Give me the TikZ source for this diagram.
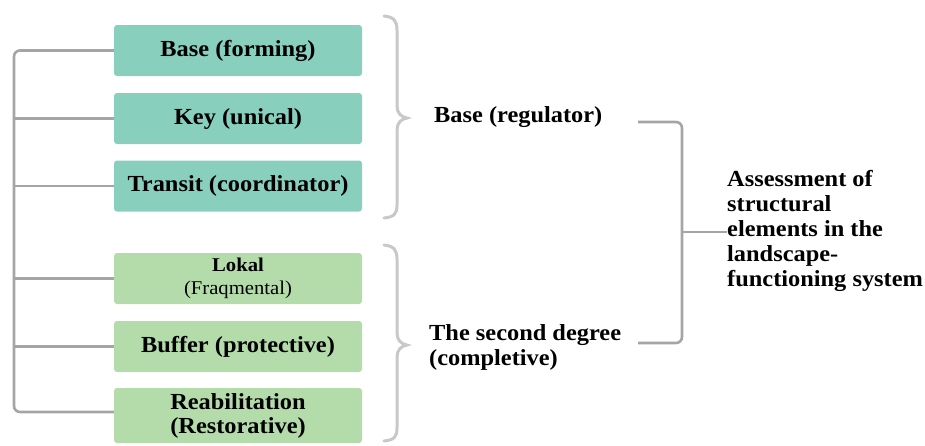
\documentclass[tikz,border=0pt]{standalone}
\usepackage{fontspec}
\setmainfont[FakeStretch=1.06]{Liberation Serif}
\definecolor{teal1}{RGB}{136,207,190}
\definecolor{green1}{RGB}{180,220,171}
\definecolor{line1}{RGB}{165,165,165}
\definecolor{brace1}{RGB}{200,200,200}
\begin{document}
\begin{tikzpicture}[x=1pt,y=-1pt,
  box/.style={rectangle,rounded corners=3pt,minimum width=248pt,minimum height=51pt,inner sep=0pt,align=center,
     font=\fontsize{23}{26}\selectfont\bfseries},
  tealbox/.style={box,fill=teal1},
  greenbox/.style={box,fill=green1},
  conn/.style={draw=line1,line width=2.6pt,rounded corners=6pt},
  bracestyle/.style={draw=brace1,line width=3pt,line cap=round},
  lbl/.style={inner sep=0pt,align=left,anchor=west,font=\fontsize{23}{25}\selectfont\bfseries}]
\useasboundingbox (0,0) rectangle (925,445);
\node[tealbox] (b1) at (238,50.5) {Base (forming)};
\node[tealbox] (b2) at (238,118.5) {Key (unical)};
\node[tealbox] (b3) at (238,186) {Transit (coordinator)};
\node[greenbox] (b4) at (238,278.5) {{\fontsize{19.5}{25}\selectfont Lokal}\\[-3pt]{\fontsize{19.5}{22}\selectfont\mdseries (Fraqmental)}};
\node[greenbox] (b5) at (238,346.5) {Buffer (protective)};
\node[greenbox,minimum height=55pt] (b6) at (238,415.5) {Reabilitation\\[-2pt](Restorative)};
% left connector
\coordinate (lt) at (14,50.5);
\coordinate (lb) at (14,412);
\draw[conn] (b1.west) -- (lt) -- (lb) -- (b6.west |- lb);
\draw[conn] (b2.west) -- (b2.west -| lt);
\draw[conn] (b3.west) -- (b3.west -| lt);
\draw[conn] (b4.west) -- (b4.west -| lt);
\draw[conn] (b5.west) -- (b5.west -| lt);
% braces
\draw[bracestyle] (384,16) .. controls (394,17) and (397,21) .. (397,30) -- (397,106)
   .. controls (397,113) and (401,117) .. (407,118) .. controls (401,119) and (397,123) .. (397,130)
   -- (397,205) .. controls (397,214) and (394,217) .. (384,218);
\draw[bracestyle] (384,245) .. controls (394,246) and (397,250) .. (397,259) -- (397,333)
   .. controls (397,340) and (401,344) .. (407,345) .. controls (401,346) and (397,350) .. (397,357)
   -- (397,428) .. controls (397,437) and (394,440) .. (384,441);
% labels
\node[lbl] (reg) at (434,117) {Base (regulator)};
\node[lbl] (sec) at (429,347.5) {The second degree\\(completive)};
\node[lbl] (ass) at (727,230.5) {Assessment of\\structural\\elements in the\\landscape-\\functioning system};
% right bracket
\coordinate (rt) at (682,122);
\coordinate (rb) at (682,343);
\draw[conn] (638,122) -- (rt) -- (rb) -- (638,343);
\draw[conn] (682,232) -- (ass.west |- 0,232);
\end{tikzpicture}
\end{document}
